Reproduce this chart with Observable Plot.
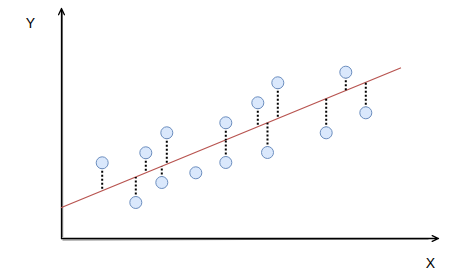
<!DOCTYPE html>
<html>
<head>
<meta charset="utf-8">
<script src="https://cdn.jsdelivr.net/npm/d3@7"></script>
<script src="https://cdn.jsdelivr.net/npm/@observablehq/plot@0.6"></script>
<style>
  html, body { margin: 0; padding: 0; background: #fff; }
  #chart { width: 460px; height: 278px; }
</style>
</head>
<body>
<div id="chart"></div>
<script>
// Observations (x, y) in chart units
const obsX = [4.07, 7.43, 8.43, 10.03, 10.53, 13.43, 16.43, 16.43, 19.63, 20.6, 21.63, 26.47, 28.43, 30.43];
const obsY = [7.57, 3.6, 8.57, 5.6, 10.57, 6.57, 11.57, 7.6, 13.57, 8.6, 15.57, 10.57, 16.63, 12.57];
// whether a residual (dotted) segment is drawn for each observation
const showResidual = [true, true, true, true, true, false, true, true, true, true, true, true, true, true];
// regression line endpoints
const fitX = [0, 33.9];
const fitY = [3.1, 17.05];
// axes extents
const axisMaxX = 37.7;
const axisMaxY = 23;
const axisLabels = ["X", "Y"];

const slope = (fitY[1] - fitY[0]) / (fitX[1] - fitX[0]);
const fitAt = x => fitY[0] + slope * (x - fitX[0]);

const points = obsX.map((x, i) => ({x, y: obsY[i], fit: fitAt(x), res: showResidual[i]}));
const fitLine = fitX.map((x, i) => ({x, y: fitY[i]}));

const chart = Plot.plot({
  width: 460,
  height: 278,
  margin: 0,
  axis: null,
  x: {domain: [0, axisMaxX], range: [61, 438]},
  y: {domain: [0, axisMaxY], range: [238, 8]},
  style: {background: "#fff", fontFamily: "Liberation Sans, Arial, sans-serif"},
  marks: [
    // axes (sketch style, doubled strokes)
    Plot.arrow([{x1: 0, y1: 0, x2: 0, y2: axisMaxY}], {x1: "x1", y1: "y1", x2: "x2", y2: "y2", stroke: "#000", strokeWidth: 1.3, headLength: 8, headAngle: 50}),
    Plot.arrow([{x1: 0, y1: 0, x2: axisMaxX, y2: 0}], {x1: "x1", y1: "y1", x2: "x2", y2: "y2", stroke: "#000", strokeWidth: 1.3, headLength: 8, headAngle: 50}),
    Plot.link([{x1: 0.12, y1: 0.15, x2: 0.1, y2: axisMaxY - 0.3}], {x1: "x1", y1: "y1", x2: "x2", y2: "y2", stroke: "#000", strokeWidth: 0.8, strokeOpacity: 0.7}),
    Plot.link([{x1: 0.1, y1: -0.15, x2: axisMaxX - 1, y2: -0.05}], {x1: "x1", y1: "y1", x2: "x2", y2: "y2", stroke: "#000", strokeWidth: 0.8, strokeOpacity: 0.7}),
    // regression line
    Plot.line(fitLine, {x: "x", y: "y", stroke: "#b85450", strokeWidth: 1.3}),
    // residuals
    Plot.link(points.filter(d => d.res), {x1: "x", y1: "y", x2: "x", y2: "fit", stroke: "#000", strokeWidth: 2, strokeDasharray: "2 2"}),
    // observations
    Plot.dot(points, {x: "x", y: "y", r: 6, fill: "#dae8fc", stroke: "#6c8ebf", strokeWidth: 1}),
    // axis labels
    Plot.text([{t: axisLabels[1], x: -3.1, y: 21.5}], {x: "x", y: "y", text: "t", fontSize: 14, fill: "#000"}),
    Plot.text([{t: axisLabels[0], x: 36.9, y: -2.5}], {x: "x", y: "y", text: "t", fontSize: 14, fill: "#000"})
  ]
});
document.getElementById("chart").appendChild(chart);
</script>
</body>
</html>
